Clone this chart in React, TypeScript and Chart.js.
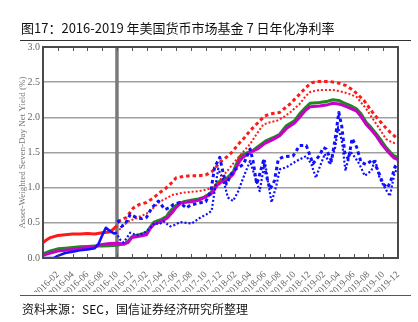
import React, { useEffect, useRef } from "react";
import { Chart, registerables } from "chart.js";

Chart.register(...registerables);

// x = month index (0 = start of 2016-01), ticks every two months
const tickMonths = [2, 4, 6, 8, 10, 12, 14, 16, 18, 20, 22, 24, 26, 28, 30, 32, 34, 36, 38, 40, 42, 44, 46, 48];
const tickLabels = [
  "2016-02", "2016-04", "2016-06", "2016-08", "2016-10", "2016-12",
  "2017-02", "2017-04", "2017-06", "2017-08", "2017-10", "2017-12",
  "2018-02", "2018-04", "2018-06", "2018-08", "2018-10", "2018-12",
  "2019-02", "2019-04", "2019-06", "2019-08", "2019-10", "2019-12",
];
const reformMonth = 10;
const yTicks = [0, 0.5, 1, 1.5, 2, 2.5, 3];

const titleText = "图17：2016-2019 年美国货币市场基金 7 日年化净利率";
const sourceText = "资料来源：SEC，国信证券经济研究所整理";
const yTitle = "Asset-Weighted Seven-Day Net Yield (%)";

const redSolid: [number, number][] = [
  [0, 0.22], [0.5, 0.26], [1, 0.29], [2, 0.32], [3, 0.33], [4, 0.34], [5, 0.34],
  [6, 0.35], [7, 0.34], [8, 0.36], [9, 0.37], [9.5, 0.41], [10, 0.46],
];
const blueSolid: [number, number][] = [
  [0, 0], [1.5, 0], [2, 0.03], [3, 0.07], [4, 0.09], [5, 0.11], [6, 0.12], [7, 0.14],
  [7.5, 0.2], [8, 0.32], [8.5, 0.43], [9.1, 0.38], [9.6, 0.35], [10, 0.36],
];
const green: [number, number][] = [
  [0, 0.06], [1, 0.1], [2, 0.13], [3, 0.14], [4, 0.15], [5, 0.16], [6, 0.165], [7, 0.17],
  [8, 0.17], [9, 0.175], [10, 0.18], [10.5, 0.19], [11, 0.2], [11.5, 0.24], [12, 0.3],
  [12.5, 0.32], [13, 0.33], [14, 0.36], [14.5, 0.44], [15, 0.51], [16, 0.55], [16.7, 0.59],
  [17, 0.64], [17.5, 0.7], [18, 0.75], [19, 0.8], [20, 0.82], [21, 0.84], [21.7, 0.86],
  [22.6, 0.92], [23, 0.97], [23.5, 1.06], [24, 1.1], [24.8, 1.13], [25.7, 1.22], [26, 1.3],
  [26.6, 1.44], [27, 1.47], [28.4, 1.53], [29, 1.58], [30.2, 1.67], [31.1, 1.71], [32, 1.76],
  [32.9, 1.88], [34, 1.95], [34.7, 2.05], [35.5, 2.14], [36.1, 2.2], [37.4, 2.21], [38.5, 2.23],
  [39.2, 2.25], [40, 2.24], [40.6, 2.21], [41.5, 2.17], [42.4, 2.12], [43, 2.05], [43.7, 1.93],
  [44.4, 1.85], [45.1, 1.76], [45.8, 1.66], [46.4, 1.57], [47, 1.5], [47.5, 1.45], [48, 1.43],
];
const magenta: [number, number][] = [
  [0, 0.04], [1, 0.07], [2, 0.1], [3, 0.11], [4, 0.12], [5, 0.14], [6, 0.15], [7, 0.16],
  [7.8, 0.19], [8.5, 0.2], [9, 0.205], [10, 0.21], [11, 0.2], [11.5, 0.22], [12, 0.29],
  [13, 0.31], [14, 0.33], [14.5, 0.42], [15, 0.48], [16, 0.52], [16.8, 0.57], [17.5, 0.65],
  [18, 0.72], [18.6, 0.78], [19, 0.79], [20, 0.8], [21, 0.82], [22, 0.87], [22.6, 0.9],
  [23, 0.94], [23.5, 1.03], [24, 1.07], [25, 1.12], [25.7, 1.19], [26, 1.26], [26.6, 1.38],
  [27, 1.43], [28, 1.5], [29, 1.55], [30, 1.63], [31, 1.68], [32, 1.74], [33, 1.85], [34, 1.92],
  [34.7, 2.0], [35.5, 2.1], [36.1, 2.15], [37.4, 2.16], [38.5, 2.18], [39.2, 2.2], [40, 2.19],
  [40.6, 2.17], [41.5, 2.13], [42.4, 2.09], [43, 2.01], [43.7, 1.9], [44.4, 1.82], [45.1, 1.73],
  [45.8, 1.62], [46.4, 1.54], [47, 1.47], [47.5, 1.42], [48, 1.4],
];
const redDashed: [number, number][] = [
  [10.1, 0.52], [10.6, 0.54], [11.3, 0.58], [12.2, 0.71], [13, 0.76], [14, 0.79], [15, 0.86],
  [15.8, 0.93], [16.5, 0.98], [17.5, 1.08], [18, 1.14], [19, 1.16], [20, 1.17], [21, 1.17],
  [22, 1.18], [23, 1.24], [23.9, 1.36], [25, 1.45], [25.5, 1.5], [26.6, 1.64], [27, 1.68],
  [28, 1.81], [29.3, 1.95], [30, 2.02], [30.7, 2.05], [32, 2.07], [33.4, 2.19], [34.7, 2.33],
  [35.6, 2.43], [36.3, 2.49], [37, 2.51], [38.8, 2.51], [40.2, 2.48], [41, 2.45], [42, 2.38],
  [43.4, 2.24], [44.7, 2.05], [46.1, 1.88], [47, 1.78], [47.8, 1.71], [48, 1.7],
];
const redDotted: [number, number][] = [
  [10.3, 0.4], [10.8, 0.45], [11.5, 0.52], [12.5, 0.56], [13.1, 0.59], [14, 0.63], [15, 0.72],
  [15.8, 0.8], [16.5, 0.84], [17.6, 0.9], [19, 0.93], [20, 0.94], [21, 0.95], [22.1, 0.97],
  [23, 1.01], [24, 1.12], [25, 1.25], [26, 1.38], [27, 1.5], [28, 1.62], [29, 1.78], [29.8, 1.9],
  [30.7, 1.93], [31.6, 1.95], [32.5, 2.0], [33.4, 2.07], [34.7, 2.19], [35.5, 2.3], [36.1, 2.36],
  [37.4, 2.39], [39.2, 2.39], [40.6, 2.36], [41.5, 2.33], [42.4, 2.29], [43.7, 2.12], [45.1, 1.9],
  [46.4, 1.69], [47.3, 1.64], [48, 1.63],
];
const blueDashed: [number, number][] = [
  [10.1, 0.54], [10.6, 0.45], [11.1, 0.48], [11.8, 0.62], [12.7, 0.57], [13.4, 0.56], [14, 0.58],
  [14.7, 0.71], [15.6, 0.81], [16.5, 0.69], [17.2, 0.72], [17.6, 0.76], [18.5, 0.79], [19.4, 0.71],
  [19.9, 0.75], [20.3, 0.76], [21, 0.78], [22, 0.8], [22.7, 0.95], [23.2, 1.29], [23.9, 1.43],
  [24.4, 1.19], [24.8, 1.05], [25.7, 1.24], [27.1, 1.33], [28, 1.55], [28.4, 1.38], [28.9, 1.05],
  [29.3, 1.19], [29.8, 1.38], [30.2, 1.17], [30.7, 0.98], [31.3, 1.1], [31.8, 1.4], [32.5, 1.44],
  [33.8, 1.45], [34.7, 1.6], [35.6, 1.6], [36.5, 1.34], [37.4, 1.46], [37.9, 1.57], [38.3, 1.55],
  [39, 1.38], [39.5, 1.69], [40, 2.07], [40.4, 1.87], [40.8, 1.5], [41.3, 1.4], [41.8, 1.7],
  [42.4, 1.58], [43, 1.36], [43.7, 1.33], [44.6, 1.4], [45.3, 1.24], [46, 1.05], [46.6, 1.0],
  [47.1, 1.12], [47.6, 1.3], [48, 1.36],
];
const blueDotted: [number, number][] = [
  [10.1, 0.32], [10.5, 0.25], [10.9, 0.22], [11.3, 0.28], [11.8, 0.36], [12.5, 0.33], [13.1, 0.33],
  [14, 0.38], [14.6, 0.44], [15.1, 0.5], [15.7, 0.48], [16.3, 0.52], [17.2, 0.45], [17.8, 0.47],
  [18.5, 0.51], [19.3, 0.5], [20.1, 0.49], [21.2, 0.57], [22.1, 0.62], [22.8, 0.67], [23.2, 0.95],
  [23.7, 1.27], [24.4, 1.1], [25, 0.86], [25.7, 0.81], [26.4, 0.95], [27.3, 1.2], [28, 1.38],
  [28.7, 1.14], [29.3, 0.95], [30, 1.38], [30.4, 1.1], [30.9, 0.79], [31.6, 1.05], [32, 1.26],
  [32.9, 1.29], [34.3, 1.38], [35.6, 1.45], [36.3, 1.33], [36.9, 1.14], [37.4, 1.29], [38.1, 1.48],
  [38.8, 1.33], [39.5, 1.57], [39.9, 1.86], [40.4, 1.67], [40.9, 1.24], [41.5, 1.52], [42.2, 1.43],
  [42.8, 1.33], [43.5, 1.17], [44.4, 1.24], [44.9, 1.4], [45.5, 1.14], [46.2, 1.0], [46.9, 0.88],
  [47.5, 1.19], [48, 1.3],
];

const mk = (label: string, pts: [number, number][], color: string, width: number, dash: number[]) => ({
  label,
  data: pts.map(([x, y]) => ({ x, y })),
  borderColor: color,
  backgroundColor: color,
  borderWidth: width,
  borderDash: dash,
  borderCapStyle: "butt",
  borderJoinStyle: "round",
  pointRadius: 0,
  tension: 0,
  fill: false,
});

const framePlugin = {
  id: "frame",
  beforeDatasetsDraw(chart: any) {
    const { ctx, chartArea: a, scales } = chart;
    const px = scales.x.getPixelForValue(reformMonth);
    ctx.save();
    ctx.strokeStyle = "#7a7a7a";
    ctx.lineWidth = 3.5;
    ctx.beginPath();
    ctx.moveTo(px, a.top);
    ctx.lineTo(px, a.bottom);
    ctx.stroke();
    ctx.restore();
  },
  afterDatasetsDraw(chart: any) {
    const { ctx, chartArea: a, scales } = chart;
    ctx.save();
    ctx.strokeStyle = "#555";
    ctx.lineWidth = 1;
    ctx.beginPath();
    tickMonths.forEach((m) => {
      const px = Math.round(scales.x.getPixelForValue(m)) + 0.5;
      ctx.moveTo(px, a.bottom);
      ctx.lineTo(px, a.bottom - 4);
      ctx.moveTo(px, a.top);
      ctx.lineTo(px, a.top + 4);
    });
    ctx.stroke();
    ctx.strokeStyle = "#4a4a4a";
    ctx.lineWidth = 2;
    ctx.strokeRect(a.left, a.top, a.right - a.left, a.bottom - a.top);
    ctx.restore();
  },
};

export default function App() {
  const ref = useRef<HTMLCanvasElement | null>(null);
  useEffect(() => {
    document.body.style.margin = "0";
    const canvas = ref.current;
    if (!canvas) return;
    const chart = new Chart(canvas, {
      type: "line",
      data: {
        datasets: [
          mk("blueDotted", blueDotted, "#1010ff", 2.2, [2, 2]),
          mk("blueDashed", blueDashed, "#1010ff", 3, [3.5, 3]),
          mk("redDotted", redDotted, "#ff1a1a", 2, [2, 2]),
          mk("redDashed", redDashed, "#ff1a1a", 3, [3.5, 3]),
          mk("blueSolid", blueSolid, "#1010ff", 2.6, []),
          mk("redSolid", redSolid, "#ff1a1a", 3, []),
          mk("magenta", magenta, "#c800c8", 3, []),
          mk("green", green, "#1e8a1e", 3, []),
        ] as any,
      },
      options: {
        animation: false,
        responsive: false,
        maintainAspectRatio: false,
        layout: { padding: { top: 47, right: 20, bottom: 30, left: 0 } },
        plugins: { legend: { display: false }, tooltip: { enabled: false } },
        scales: {
          x: {
            type: "linear",
            min: 0,
            max: 48,
            afterBuildTicks: (s: any) => {
              s.ticks = tickMonths.map((v) => ({ value: v }));
            },
            afterFit: (s: any) => {
              s.height = 34;
              s.paddingLeft = 0;
              s.paddingRight = 0;
            },
            ticks: {
              autoSkip: false,
              maxRotation: 45,
              minRotation: 45,
              padding: 3,
              color: "#666",
              font: { family: "Liberation Serif", size: 9.5 },
              callback: (v: any) => {
                const i = tickMonths.indexOf(Number(v));
                return i >= 0 ? tickLabels[i] : "";
              },
            },
            grid: { display: false },
            border: { display: false },
          },
          y: {
            min: 0,
            max: 3,
            afterBuildTicks: (s: any) => {
              s.ticks = yTicks.map((v) => ({ value: v }));
            },
            afterFit: (s: any) => {
              s.width = 43;
            },
            ticks: {
              padding: 3,
              color: "#666",
              font: { family: "Liberation Serif", size: 10 },
              callback: (v: any) => Number(v).toFixed(1),
            },
            grid: { color: "#a0a0a0", lineWidth: 1.5, drawTicks: false },
            border: { display: false },
            title: {
              display: true,
              text: yTitle,
              color: "#777",
              font: { family: "Liberation Serif", size: 9 },
              padding: { top: 17, bottom: 0 },
            },
          },
        },
      } as any,
      plugins: [framePlugin],
    });
    return () => chart.destroy();
  }, []);

  return (
    <div style={{ position: "absolute", left: 0, top: 0, width: 418, height: 322, background: "#fff", overflow: "hidden" }}>
      <canvas ref={ref} width={418} height={322} style={{ position: "absolute", left: 0, top: 0, width: 418, height: 322 }} />
      <div
        style={{
          position: "absolute", left: 21, top: 19, fontSize: 13, lineHeight: "18px",
          fontFamily: '"Noto Sans CJK SC", sans-serif', color: "#111", whiteSpace: "nowrap",
        }}
      >
        {titleText}
      </div>
      <div style={{ position: "absolute", left: 20, top: 40, width: 391, height: 1, background: "#333" }} />
      <div style={{ position: "absolute", left: 20, top: 295, width: 391, height: 1, background: "#555" }} />
      <div
        style={{
          position: "absolute", left: 22, top: 301, fontSize: 12, lineHeight: "16px",
          fontFamily: '"Noto Sans CJK SC", sans-serif', color: "#111", whiteSpace: "nowrap",
        }}
      >
        {sourceText}
      </div>
    </div>
  );
}
